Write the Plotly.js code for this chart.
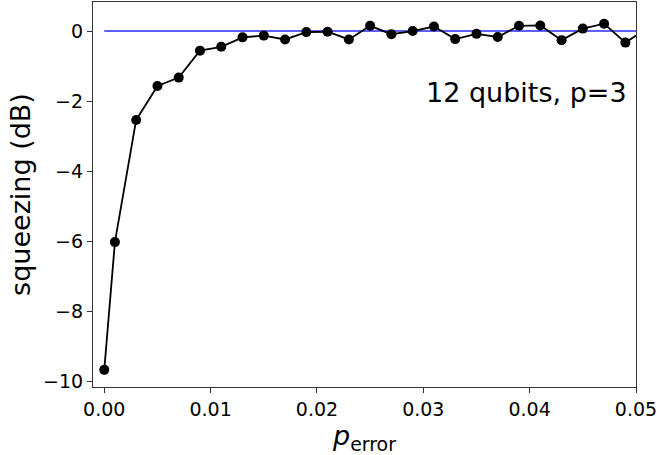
<!DOCTYPE html>
<html>
<head>
<meta charset="utf-8">
<script src="https://cdn.plot.ly/plotly-3.0.1.min.js"></script>
<style>
  html, body { margin: 0; padding: 0; background: #fff; }
  #chart { width: 660px; height: 455px; }
</style>
</head>
<body>
<div id="chart"></div>
<script>
// error probability per gate
const pError = [0, 0.001, 0.003, 0.005, 0.007, 0.009, 0.011, 0.013, 0.015, 0.017,
                0.019, 0.021, 0.023, 0.025, 0.027, 0.029, 0.031, 0.033, 0.035, 0.037,
                0.039, 0.041, 0.043, 0.045, 0.047, 0.049, 0.051];
// squeezing achieved (dB)
const squeezing = [-9.68, -6.03, -2.54, -1.57, -1.33, -0.56, -0.45, -0.18, -0.13, -0.24,
                   -0.03, -0.02, -0.24, 0.15, -0.09, 0.0, 0.13, -0.23, -0.08, -0.17,
                   0.15, 0.16, -0.26, 0.07, 0.21, -0.33, 0.07];
// reference level
const refX = [0, 0.05];
const refY = [0, 0];

const yTickVals = [0, -2, -4, -6, -8, -10];
const yTickText = ['0', '\u22122', '\u22124', '\u22126', '\u22128', '\u221210'];
const xTickVals = [0, 0.01, 0.02, 0.03, 0.04, 0.05];
const xTickText = ['0.00', '0.01', '0.02', '0.03', '0.04', '0.05'];

const font = 'DejaVu Sans, sans-serif';

const traces = [
  {
    x: refX, y: refY, mode: 'lines', type: 'scatter',
    line: { color: '#2a2aff', width: 1.5 },
    hoverinfo: 'skip'
  },
  {
    x: pError, y: squeezing, mode: 'lines+markers', type: 'scatter',
    line: { color: '#000', width: 1.8 },
    marker: { color: '#000', size: 10 }
  }
];

const axisCommon = {
  showgrid: false, zeroline: false,
  showline: true, mirror: true, linecolor: '#333', linewidth: 1.1,
  ticks: 'outside', ticklen: 5, tickwidth: 1, tickcolor: '#333',
  tickfont: { family: font, size: 19, color: '#000' }
};

const layout = {
  width: 660, height: 455,
  margin: { l: 93, r: 24, t: 2, b: 68 },
  paper_bgcolor: '#fff', plot_bgcolor: '#fff',
  showlegend: false,
  xaxis: Object.assign({}, axisCommon, {
    range: [-0.00106, 0.05],
    tickvals: xTickVals, ticktext: xTickText,
    title: { text: '<i>p</i><sub>error</sub>', font: { family: font, size: 27, color: '#000' }, standoff: 3 }
  }),
  yaxis: Object.assign({}, axisCommon, {
    range: [-10.17, 0.83],
    tickvals: yTickVals, ticktext: yTickText,
    title: { text: 'squeezing (dB)', font: { family: font, size: 27, color: '#000' }, standoff: 4 }
  }),
  annotations: [{
    xref: 'paper', yref: 'paper', x: 0.987, y: 0.765,
    xanchor: 'right', yanchor: 'middle', showarrow: false,
    text: '12 qubits, p=3',
    font: { family: font, size: 27, color: '#000' }
  }]
};

Plotly.newPlot('chart', traces, layout, { displayModeBar: false, staticPlot: true });
</script>
</body>
</html>
